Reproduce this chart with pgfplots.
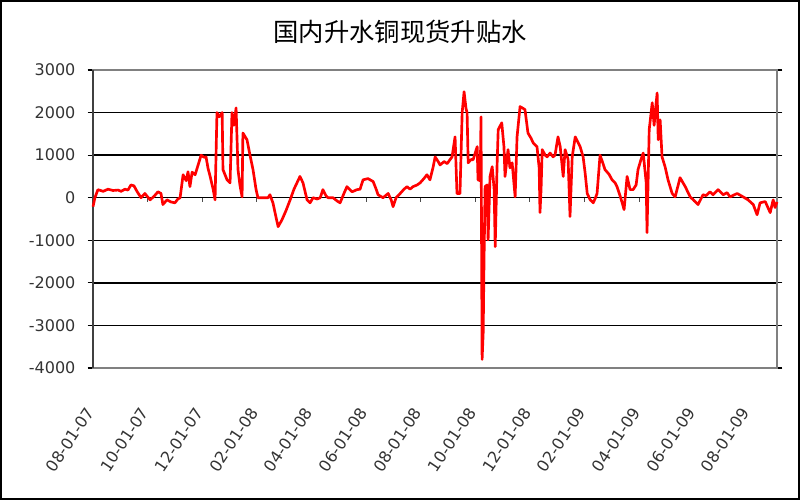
\documentclass[border=0pt]{standalone}
\usepackage{pgfplots}
\pgfplotsset{compat=1.18}
\usepackage{fontspec}
\setmainfont{DejaVu Sans}
\newfontfamily\cjk{Noto Sans CJK SC}
\definecolor{plotred}{RGB}{255,0,0}
\pgfplotstableread{
m v
0.00 -210
0.07 0
0.18 190
0.37 150
0.55 200
0.73 170
0.92 180
1.03 150
1.17 200
1.28 180
1.39 300
1.50 280
1.61 150
1.76 0
1.90 100
2.09 -50
2.23 30
2.38 140
2.49 100
2.56 -160
2.71 -50
2.86 -100
3.00 -120
3.11 -30
3.19 0
3.30 540
3.41 400
3.48 610
3.55 260
3.63 600
3.74 540
3.85 770
3.96 1000
4.07 950
4.14 960
4.21 700
4.29 500
4.40 200
4.47 -50
4.54 2000
4.62 1900
4.73 2000
4.76 660
4.91 420
5.02 350
5.09 2000
5.16 1700
5.24 2110
5.31 660
5.38 300
5.46 20
5.49 1520
5.64 1360
5.75 1000
5.86 660
5.97 200
6.04 0
6.23 0
6.41 0
6.48 70
6.59 -120
6.70 -450
6.78 -680
6.92 -520
7.07 -300
7.22 -50
7.36 200
7.47 350
7.58 500
7.69 350
7.84 -50
7.95 -120
8.06 0
8.21 -30
8.32 0
8.42 190
8.53 50
8.61 0
8.79 0
8.97 -90
9.05 -120
9.19 100
9.30 260
9.49 140
9.67 190
9.78 200
9.89 420
10.07 450
10.26 380
10.37 200
10.44 70
10.62 0
10.81 100
10.92 -50
10.99 -210
11.10 0
11.25 100
11.39 200
11.50 260
11.61 200
11.72 260
11.87 300
11.98 350
12.12 450
12.23 540
12.34 420
12.45 700
12.53 960
12.64 850
12.71 770
12.86 850
12.97 800
13.08 900
13.15 960
13.26 1430
13.33 100
13.44 100
13.52 2000
13.59 2490
13.66 2100
13.70 2000
13.74 820
13.85 900
13.92 890
14.07 1200
14.10 420
14.18 400
14.21 1900
14.25 -3800
14.29 -3170
14.32 -1500
14.36 260
14.43 300
14.47 -990
14.54 500
14.62 730
14.69 200
14.73 -1150
14.80 800
14.84 1600
14.97 1760
15.05 1200
15.09 500
15.20 1130
15.27 700
15.35 820
15.46 20
15.53 1430
15.64 2140
15.75 2100
15.82 2070
15.93 1520
16.04 1400
16.12 1290
16.26 1200
16.34 700
16.37 -350
16.41 200
16.45 1130
16.56 1000
16.63 960
16.74 1050
16.85 960
16.92 1000
17.03 1430
17.11 1200
17.22 500
17.29 1130
17.40 900
17.47 -440
17.55 960
17.66 1430
17.84 1200
17.95 960
18.02 600
18.10 100
18.21 -50
18.32 -120
18.39 -20
18.46 100
18.57 1000
18.68 800
18.75 660
18.90 550
19.01 420
19.12 350
19.19 260
19.30 50
19.38 -120
19.45 -280
19.56 500
19.63 300
19.67 190
19.78 190
19.89 300
19.96 660
20.07 900
20.15 1050
20.26 350
20.29 -820
20.37 1600
20.48 2230
20.55 1700
20.59 2000
20.66 2460
20.70 1360
20.77 1830
20.84 960
20.95 730
21.06 420
21.21 100
21.32 20
21.50 470
21.69 260
21.87 20
22.05 -90
22.16 -160
22.34 70
22.45 50
22.60 140
22.71 70
22.89 190
23.08 70
23.22 120
23.33 20
23.59 100
23.81 20
23.99 -50
24.18 -160
24.32 -400
24.43 -120
24.62 -90
24.73 -250
24.80 -350
24.91 -50
24.98 -230
25.05 -100
}\premium

\begin{document}
\begin{tikzpicture}
\useasboundingbox (0,0) rectangle (600pt,-375pt);
\draw[black, line width=1.5pt] (0.75pt,-0.75pt) rectangle (599.25pt,-374.25pt);
\node[font=\cjk\fontsize{19}{22}\selectfont] at (300pt,-24pt) {国内升水铜现货升贴水};
\begin{axis}[
  at={(69.75pt,-276pt)}, anchor=south west,
  scale only axis, width=513pt, height=223.5pt,
  xmin=0, xmax=25.05, ymin=-4000, ymax=3000,
  ytick={-4000,-3000,...,3000},
  xtick={0,2,...,24},
  xticklabels={08-01-07,10-01-07,12-01-07,02-01-08,04-01-08,06-01-08,08-01-08,10-01-08,12-01-08,02-01-09,04-01-09,06-01-09,08-01-09},
  scaled y ticks=false,
  /pgf/number format/assume math mode=true,
  /pgf/number format/1000 sep={},
  ymajorgrids,
  xmajorgrids=false,
  grid style={black, line width=1.1pt},
  axis line style={draw=gray, line width=1.1pt},
  tick label style={font=\fontsize{12}{14}\selectfont, text=black!80},
  yticklabel style={inner sep=0pt, xshift=-9pt},
  ytick style={black, line width=0.8pt},
  tick align=outside,
  major tick length=4pt,
  xtick style={draw=none},
  xticklabel shift=27pt,
  xticklabel style={inner sep=0pt, xshift=-2pt, anchor=east, rotate=56},
  clip=false,
]
\pgfplotsinvokeforeach{0,2,...,24}{\draw[gray!60!black, line width=0.8pt] (axis cs:#1,0) -- ([yshift=-3pt]axis cs:#1,0);}
\draw[black!75, line width=1.1pt] (rel axis cs:0,0) -- (rel axis cs:0,1);
\addplot[plotred, line width=2pt, line join=round, mark=none] table[x=m, y=v] {\premium};
\end{axis}
\end{tikzpicture}
\end{document}
